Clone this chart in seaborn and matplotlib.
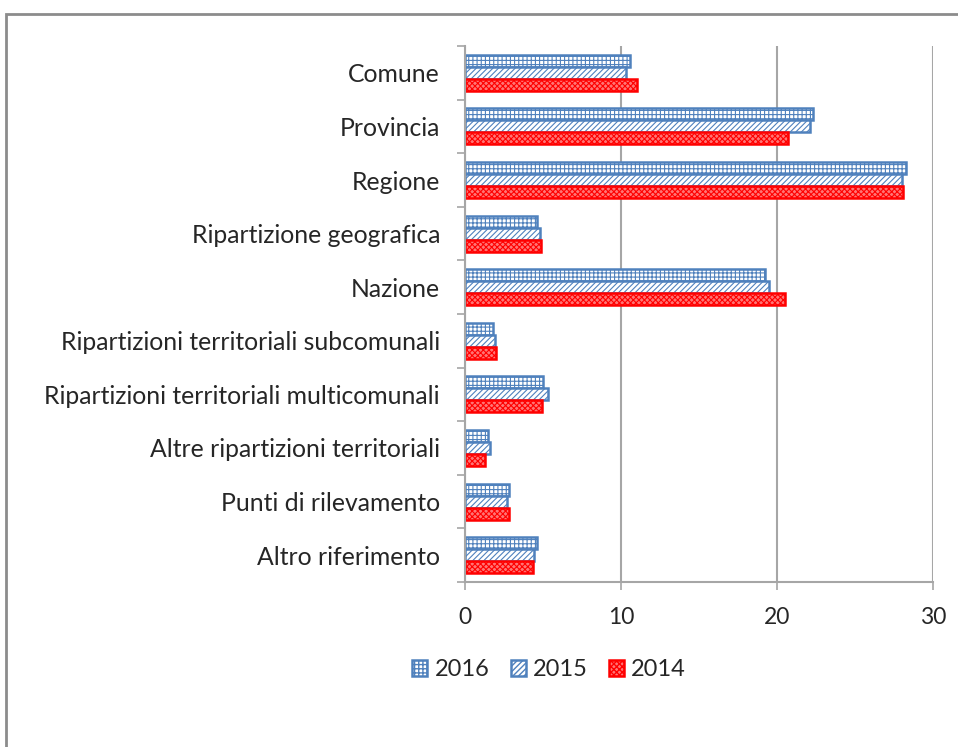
import matplotlib
matplotlib.use('Agg')
import matplotlib.pyplot as plt
import pandas as pd
import seaborn as sns
from matplotlib.patches import Rectangle

categorie = ['Comune', 'Provincia', 'Regione', 'Ripartizione geografica', 'Nazione',
             'Ripartizioni territoriali subcomunali', 'Ripartizioni territoriali multicomunali',
             'Altre ripartizioni territoriali', 'Punti di rilevamento', 'Altro riferimento']
anni = ['2016', '2015', '2014']
val_2016 = [10.6, 22.3, 28.3, 4.6, 19.25, 1.8, 5.0, 1.5, 2.8, 4.6]
val_2015 = [10.3, 22.1, 28.0, 4.8, 19.5, 1.9, 5.3, 1.6, 2.7, 4.4]
val_2014 = [11.0, 20.7, 28.1, 4.9, 20.5, 2.0, 4.95, 1.3, 2.8, 4.35]

df = pd.DataFrame({
    'categoria': categorie * 3,
    'anno': ['2016'] * 10 + ['2015'] * 10 + ['2014'] * 10,
    'valore': val_2016 + val_2015 + val_2014,
})

sns.set_style('white')
plt.rcParams['font.family'] = ['Lato', 'DejaVu Sans']

fig = plt.figure(figsize=(9.58, 7.47), dpi=100)
ax = fig.add_axes([465 / 958, 1 - 582 / 747, 468 / 958, 536 / 747])

sns.barplot(data=df, x='valore', y='categoria', hue='anno', hue_order=anni,
            order=categorie, orient='h', width=0.67, gap=0, legend=False, ax=ax)

# stile delle serie (retini tipo excel)
stili = {
    '2016': dict(face='white', edge='#4F81BD', hatch='++++', hcol='#17375E'),
    '2015': dict(face='white', edge='#4F81BD', hatch='//////', hcol='#7FA7D9'),
    '2014': dict(face='#FF7575', edge='#FF0000', hatch='xxxxxx', hcol='#FF3030'),
}
for anno, cont in zip(anni, ax.containers):
    s = stili[anno]
    for p in cont:
        p.set_facecolor(s['face'])
        p.set_edgecolor(s['edge'])
        p.set_linewidth(1.8)
        p.set_hatch(s['hatch'])
        if hasattr(p, 'set_hatchcolor'):
            p.set_hatchcolor(s['hcol'])
        if hasattr(p, 'set_hatch_linewidth'):
            p.set_hatch_linewidth(0.8)

ax.set_xlim(0, 30)
ax.set_ylim(len(categorie) - 0.5, -0.5)
ax.set_xticks([0, 10, 20, 30])
ax.xaxis.grid(True, color='#A6A6A6', linewidth=1.5)
ax.set_axisbelow(True)
for side in ['top', 'right']:
    ax.spines[side].set_visible(False)
for side in ['left', 'bottom']:
    ax.spines[side].set_color('#A6A6A6')
    ax.spines[side].set_linewidth(1.5)

# tacche ai confini delle categorie
ax.set_yticks([i + 0.5 for i in range(-1, len(categorie))], minor=True)
ax.tick_params(axis='y', which='minor', length=6, width=1.2, color='#A6A6A6', left=True)
ax.tick_params(axis='y', which='major', length=0, pad=18, labelsize=17.8, labelcolor='#262626')
ax.tick_params(axis='x', which='major', length=6, width=1.2, color='#A6A6A6', bottom=True,
               pad=12, labelsize=16.5, labelcolor='#262626')
ax.set_xlabel('')
ax.set_ylabel('')

leg = ax.legend(ax.containers, anni, loc='center', bbox_to_anchor=(549 / 958, 1 - 670 / 747),
                bbox_transform=fig.transFigure, ncol=3, frameon=False, fontsize=17,
                handlelength=0.64, handleheight=0.64, handletextpad=0.3, columnspacing=0.9)
for t in leg.get_texts():
    t.set_color('#262626')

# cornice della figura
fig.add_artist(Rectangle((6 / 958, -0.1), 1.2, 1 - 14 / 747 + 0.1, transform=fig.transFigure,
                         fill=False, edgecolor='#8C8C8C', linewidth=2))

fig.savefig('out.png', dpi=100, facecolor='white')
